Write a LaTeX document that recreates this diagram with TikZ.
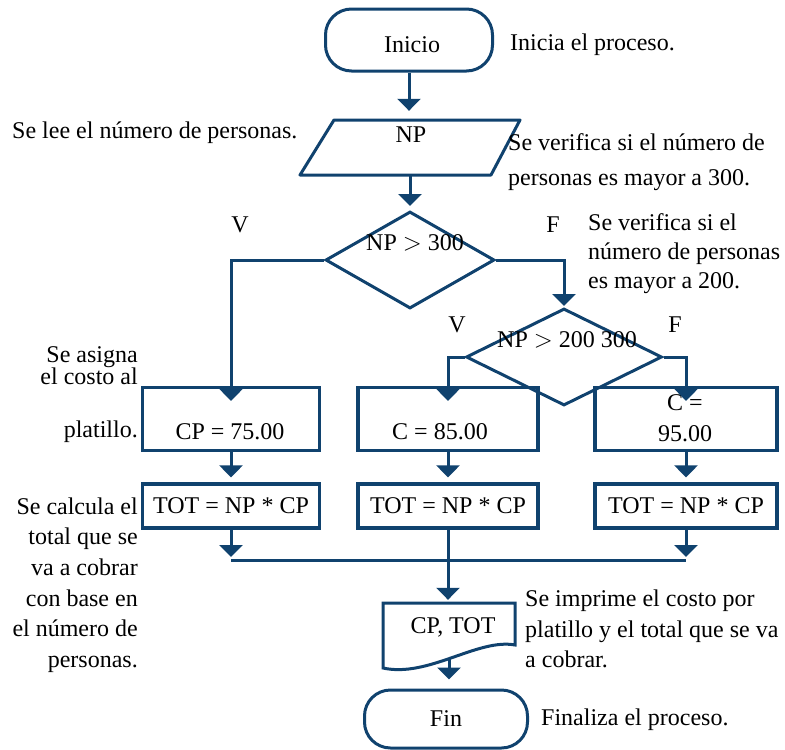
\documentclass[tikz,border=0pt]{standalone}
\usepackage{fontspec}
\setmainfont{Liberation Serif}
\usetikzlibrary{arrows.meta,shapes.geometric}
\definecolor{flow}{RGB}{16,66,110}
\begin{document}
\begin{tikzpicture}[x=1pt,y=-1pt,
  every node/.style={font=\fontsize{24}{30.6}\selectfont, inner sep=0pt},
  shp/.style={draw=flow, line width=3pt},
  term/.style={shp, rounded corners=26pt, minimum height=#1},
  procbox/.style={shp, line width=3.3pt, minimum width=#1},
  decision/.style={shp, diamond, minimum width=#1, minimum height=97pt},
  conn/.style={draw=flow, line width=3pt},
  arr/.style={conn, -{Triangle[width=23pt,length=12pt]}},
  note/.style={align=left, anchor=west},
  rnote/.style={align=right, anchor=east}
]
\useasboundingbox (0,0) rectangle (785,750);

% terminals and data blocks
\node[term=62pt, minimum width=167pt] (start) at (409,40) {};
\node (starttext) at (412,45) {Inicio};
\node[minimum width=190pt, minimum height=55pt] (in) at (410,147.5) {};
\draw[shp, line join=round] (300,175) -- (334,120) -- (520,120) -- (491,175) -- cycle;
\node (intext) at (411,135) {NP};

% decisions
\node[decision=169pt] (d1) at (410,260) {};
\node (d1text) at (415,243) {NP $>$ 300};
\node[decision=196pt] (d2) at (564,357) {};
\node (d2text) at (567,340) {NP $>$ 200 300};

% assignments
\node[procbox=177pt, minimum height=63pt] (b1) at (231,419) {};
\node (b1text) at (230,432) {CP = 75.00};
\node[procbox=180pt, minimum height=63pt] (b2) at (448,419) {};
\node (b2text) at (440,432) {C = 85.00};
\node[procbox=182pt, minimum height=63pt] (b3) at (686,419) {};
\node[align=center] (b3text) at (685,418) {C =\\95.00};

% totals
\node[procbox=177pt, minimum height=44pt] (t1) at (231,506) {TOT = NP * CP};
\node[procbox=180pt, minimum height=44pt] (t2) at (448,506) {TOT = NP * CP};
\node[procbox=182pt, minimum height=44pt] (t3) at (686,506) {TOT = NP * CP};

% printed document
\node[minimum width=132pt, minimum height=65pt] (out) at (449,635.5) {};
\draw[shp] (383,668) -- (383,603) -- (515,603) -- (515,645)
  .. controls (478,638) and (428,678) .. (383,668) -- cycle;
\node (outtext) at (453,627) {CP, TOT};

\node[term=58pt, minimum width=163pt] (fin) at (446,719) {Fin};

% connectors
\draw[arr, shorten >=9pt] (start.south) -- (start.south |- in.north);
\draw[arr, shorten >=4pt] (in.south) -- (d1.north);
\draw[arr, shorten >=-15pt] (d1.west) -| (b1.north);
\draw[arr, shorten >=1pt] (d1.east) -| (d2.north);
\draw[arr, shorten >=-15pt] (d2.west) -| (b2.north);
\draw[arr, shorten >=-15pt] (d2.east) -| (b3.north);
\draw[arr, shorten >=5pt] (b1.south) -- (t1.north);
\draw[arr, shorten >=5pt] (b2.south) -- (t2.north);
\draw[arr, shorten >=5pt] (b3.south) -- (t3.north);
\coordinate (j1) at (231,560);
\coordinate (j3) at (686,560);
\draw[arr, shorten >=3pt] (t1.south) -- (j1);
\draw[arr, shorten >=3pt] (t3.south) -- (j3);
\draw[conn] (j1) -- (j3);
\draw[arr, shorten >=3pt] (t2.south) -- (t2.south |- out.north);
\draw[arr, shorten >=9pt] ([yshift=10pt]out.south) -- (out.south |- fin.north);

% branch labels
\node (v1) at (240,225) {V};
\node (f1) at (553,225) {F};
\node (v2) at (457,325) {V};
\node (f2) at (675,325) {F};

% explanatory notes
\node[note] (n1) at (510,45) {Inicia el proceso.};
\node[note] (n2) at (12,133) {Se lee el número de personas.};
\node[note, font=\fontsize{24}{35}\selectfont] (n3) at (508,162) {Se verifica si el número de\\personas es mayor a 300.};
\node[note, font=\fontsize{24}{29}\selectfont] (n4) at (588,254) {Se verifica si el\\número de personas\\es mayor a 200.};
\node[rnote, font=\fontsize{24}{22}\selectfont] (n5) at (138,366) {Se asigna\\el costo al};
\node[rnote] (n6) at (138,432) {platillo.};
\node[rnote] (n7) at (138,585) {Se calcula el\\total que se\\va a cobrar\\con base en\\el número de\\personas.};
\node[note] (n8) at (525,629) {Se imprime el costo por\\platillo y el total que se va\\a cobrar.};
\node[note] (n9) at (541,720) {Finaliza el proceso.};
\end{tikzpicture}
\end{document}
